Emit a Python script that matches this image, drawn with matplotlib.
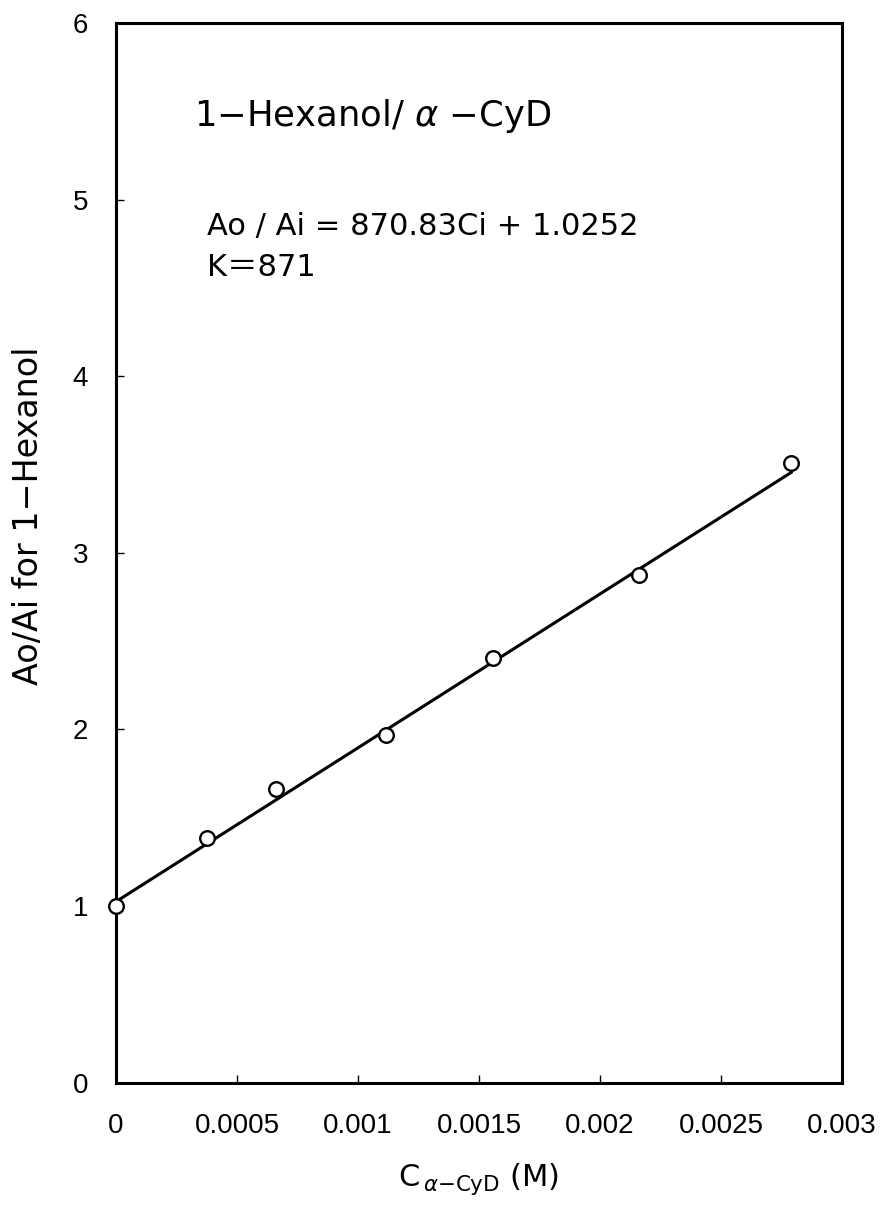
import matplotlib
matplotlib.use("Agg")
import matplotlib.pyplot as plt
import numpy as np

# data
conc = [0.0, 0.000375, 0.000661, 0.001114, 0.001559, 0.00216, 0.00279]
ratio = [1.0, 1.385, 1.662, 1.97, 2.407, 2.873, 3.51]
slope = 870.83
intercept = 1.0252
xticks = [0, 0.0005, 0.001, 0.0015, 0.002, 0.0025, 0.003]
xticklabels = ["0", "0.0005", "0.001", "0.0015", "0.002", "0.0025", "0.003"]
yticks = [0, 1, 2, 3, 4, 5, 6]

plt.rcParams['font.family'] = ['Liberation Sans', 'Noto Sans CJK JP', 'DejaVu Sans']
plt.rcParams['mathtext.fontset'] = 'custom'
plt.rcParams['mathtext.rm'] = 'DejaVu Sans'
plt.rcParams['mathtext.it'] = 'DejaVu Sans:italic'

fig = plt.figure(figsize=(8.81, 12.05), dpi=100)
ax = fig.add_axes([0.1317, 0.1015, 0.8240, 0.8795])

xfit = np.array([conc[0], conc[-1]])
ax.plot(xfit, slope * xfit + intercept, color='black', lw=2.2, zorder=2)
ax.plot(conc, ratio, 'o', mfc='white', mec='black', mew=1.7, ms=10.5, zorder=3, clip_on=False)

ax.set_xlim(0, 0.003)
ax.set_ylim(0, 6)
ax.set_xticks(xticks)
ax.set_xticklabels(xticklabels)
ax.set_yticks(yticks)
ax.tick_params(direction='in', length=6, width=1, labelsize=20)
ax.tick_params(axis='x', pad=22)
ax.tick_params(axis='y', pad=20)
for s in ax.spines.values():
    s.set_linewidth(2.2)

ax.set_ylabel('Ao/Ai for 1\u2212Hexanol', fontsize=24, labelpad=20,
              family=['DejaVu Sans'])
ax.yaxis.label.set_y(0.535)
ax.set_xlabel('C$_{\\,\\alpha\\mathrm{-CyD}}$ (M)', fontsize=22, labelpad=16,
              family=['DejaVu Sans'])

ax.text(0.108, 0.912, '1\u2212Hexanol/ $\\alpha$ \u2212CyD', transform=ax.transAxes,
        fontsize=25.5, ha='left', va='center', family=['DejaVu Sans'])
ax.text(0.125, 0.808, 'Ao / Ai = 870.83Ci + 1.0252', transform=ax.transAxes,
        fontsize=22, ha='left', va='center', family=['DejaVu Sans'])
ax.text(0.125, 0.769, 'K\uff1d871', transform=ax.transAxes,
        fontsize=22, ha='left', va='center', family=['DejaVu Sans', 'Noto Sans CJK JP'])

fig.savefig('out.png', dpi=100)
